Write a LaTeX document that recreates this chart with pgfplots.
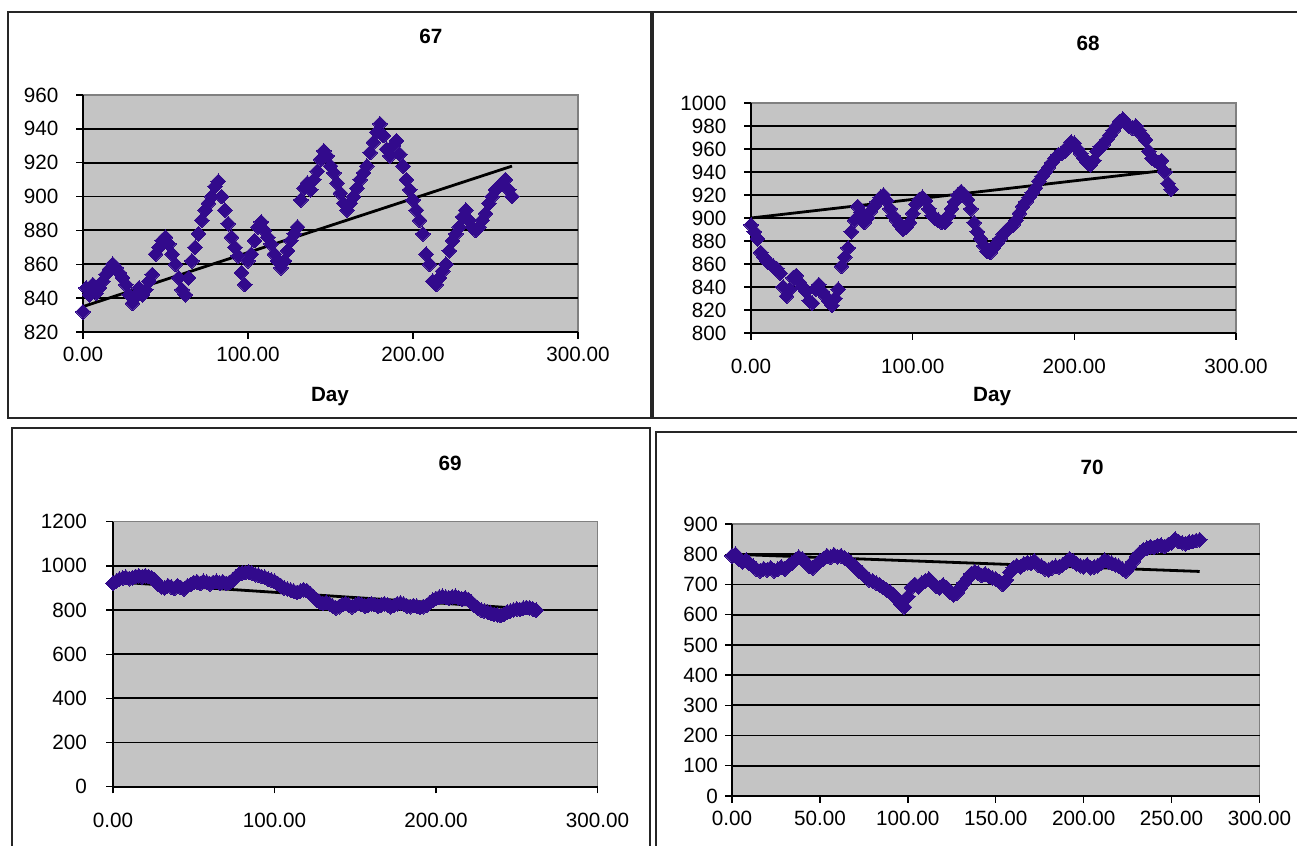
\documentclass[border=0pt]{standalone}
\usepackage{pgfplots}
\pgfplotsset{compat=1.18}
\usepackage{pgfplotstable}
\usepackage{fontspec}
\setmainfont{Liberation Sans}
\definecolor{plotgray}{RGB}{196,196,196}
\definecolor{bordergray}{RGB}{128,128,128}
\definecolor{mk}{RGB}{50,10,140}

\pgfplotstableread{
d v
0 832
2 846
4 842
6 848
8 843
10 846
12 850
14 854
16 857
18 860
20 858
22 855
24 852
26 848
28 842
30 837
32 841
34 846
36 842
38 845
40 850
42 854
44 866
46 870
48 874
50 876
52 872
54 866
56 860
58 852
60 845
62 842
64 852
66 862
68 870
70 878
72 886
74 892
76 896
78 900
80 906
82 909
84 900
86 892
88 884
90 876
92 870
94 865
96 855
98 848
100 862
102 866
104 874
106 882
108 885
110 880
112 876
114 872
116 866
118 862
120 858
122 862
124 868
126 874
128 878
130 882
132 898
134 905
136 908
138 904
140 910
142 915
144 922
146 927
148 924
150 918
152 914
154 908
156 902
158 896
160 892
162 896
164 900
166 905
168 910
170 914
172 918
174 926
176 932
178 938
180 943
182 936
184 928
186 924
188 930
190 933
192 925
194 918
196 910
198 904
200 898
202 892
204 886
206 878
208 866
210 860
212 850
214 848
216 852
218 856
220 860
222 868
224 874
226 878
228 882
230 888
232 892
234 886
236 882
238 880
240 882
242 886
244 890
246 896
248 900
250 904
252 906
254 908
256 910
258 904
260 900
}\dataA

\pgfplotstableread{
d v
0 894
2 888
4 882
6 870
8 866
10 862
12 860
14 858
16 856
18 852
20 840
22 832
24 838
26 848
28 850
30 844
32 840
34 836
36 828
38 826
40 838
42 842
44 836
46 832
48 828
50 824
52 830
54 838
56 858
58 866
60 874
62 888
64 898
66 910
68 905
70 896
72 900
74 906
76 910
78 914
80 918
82 920
84 915
86 908
88 902
90 898
92 894
94 890
96 892
98 896
100 904
102 912
104 916
106 918
108 915
110 908
112 902
114 900
116 898
118 896
120 896
122 902
124 908
126 914
128 920
130 923
132 920
134 916
136 908
138 896
140 888
142 882
144 876
146 871
148 870
150 874
152 878
154 882
156 886
158 889
160 892
162 894
164 898
166 904
168 910
170 914
172 918
174 922
176 926
178 932
180 936
182 940
184 944
186 948
188 952
190 955
192 956
194 958
196 962
198 966
200 965
202 960
204 956
206 952
208 948
210 946
212 950
214 958
216 962
218 964
220 968
222 972
224 976
226 980
228 984
230 986
232 982
234 980
236 978
238 980
240 976
242 972
244 968
246 958
248 952
250 950
252 948
254 950
256 940
258 930
260 925
}\dataB

\pgfplotstableread{
d v
0 921
2 930
4 940
6 945
8 948
10 942
12 946
14 952
16 955
18 950
20 955
22 952
24 945
26 935
28 915
30 905
32 900
34 910
36 905
38 898
40 910
42 902
44 895
46 908
48 915
50 925
52 928
54 920
56 930
58 926
60 918
62 925
64 930
66 922
68 928
70 920
72 925
74 935
76 950
78 962
80 968
82 970
84 972
86 968
88 960
90 958
92 952
94 948
96 940
98 936
100 930
102 920
104 910
106 900
108 895
110 890
112 885
114 880
116 885
118 892
120 888
122 875
124 860
126 845
128 835
130 830
132 835
134 828
136 818
138 810
140 815
142 825
144 830
146 822
148 815
150 822
152 830
154 825
156 818
158 822
160 828
162 825
164 818
166 822
168 828
170 824
172 815
174 820
176 828
178 832
180 826
182 818
184 815
186 820
188 818
190 812
192 815
194 820
196 832
198 845
200 852
202 858
204 862
206 858
208 855
210 860
212 862
214 855
216 850
218 855
220 848
222 835
224 820
226 808
228 800
230 795
232 790
234 785
236 780
238 778
240 775
242 780
244 790
246 795
248 800
250 805
252 802
254 808
256 812
258 810
260 805
262 800
}\dataC

\pgfplotstableread{
d v
0 795
2 800
4 785
6 775
8 780
10 770
12 760
14 750
16 745
18 752
20 748
22 755
24 745
26 750
28 758
30 750
32 762
34 770
36 780
38 790
40 785
42 772
44 760
46 755
48 765
50 778
52 785
54 795
56 790
58 798
60 792
62 795
64 788
66 780
68 770
70 760
72 745
74 738
76 725
78 715
80 712
82 705
84 698
86 690
88 682
90 675
92 665
94 650
96 635
98 625
100 660
102 690
104 700
106 692
108 705
110 712
112 718
114 705
116 695
118 688
120 698
122 690
124 675
126 665
128 672
130 690
132 705
134 720
136 735
138 742
140 738
142 730
144 735
146 728
148 722
150 718
152 710
154 700
156 715
158 740
160 755
162 762
164 758
166 768
168 772
170 770
172 778
174 765
176 760
178 752
180 748
182 755
184 760
186 758
188 765
190 775
192 785
194 778
196 768
198 762
200 758
202 765
204 755
206 758
208 762
210 770
212 780
214 775
216 770
218 765
220 760
222 752
224 745
226 758
228 775
230 792
232 805
234 815
236 820
238 825
240 822
242 828
244 830
246 826
248 832
250 838
252 850
254 842
256 838
258 835
260 840
262 842
264 845
266 848
}\dataD

\pgfplotsset{
  excel/.style={
    scale only axis, anchor=south west, clip=false,
    axis background/.style={fill=plotgray, draw=bordergray, line width=0.8pt},
    axis x line*=bottom, axis y line*=left,
    axis line style={-, black, line width=1.1pt},
    tick align=outside, major tick length=5pt,
    tick style={black, line width=1pt},
    minor tick num=0,
    ymajorgrids, grid style={black, line width=1.4pt},
    extra y tick style={grid=none},
    xmin=0, xmax=300,
    xticklabel={\pgfmathprintnumber[fixed,fixed zerofill,precision=2,assume math mode=true]{\tick}},
    yticklabel={\pgfmathprintnumber[fixed,1000 sep={},assume math mode=true]{\tick}},
    tick label style={font=\fontsize{15.5}{18}\selectfont, text=black},
    xticklabel style={yshift=-3pt},
    yticklabel style={xshift=-2pt},
    title style={font=\fontsize{15.5}{18}\selectfont\bfseries, anchor=center},
    xlabel style={font=\fontsize{15.5}{18}\selectfont\bfseries, anchor=center},
  },
  pts/.style={only marks, mark=square*, mark size=3.9pt,
    mark options={rotate=45, fill=mk, draw=mk, line width=0pt}},
  trend/.style={black, line width=2.1pt, no marks},
}

\begin{document}
\begin{tikzpicture}
\useasboundingbox (0,0) rectangle (972.75pt,634.5pt);
\fill[white] (0,0) rectangle (972.75pt,634.5pt);
\begin{scope}
\clip (0,0) rectangle (972.75pt,634.5pt);
\draw[black!85, line width=1.6pt] (6pt,321pt) rectangle (488.25pt,625.5pt);
\draw[black!85, line width=1.6pt] (489.75pt,321pt) rectangle (980pt,625.5pt);
\draw[black!85, line width=1.6pt] (9pt,-5pt) rectangle (487.5pt,313.5pt);
\draw[black!85, line width=1.6pt] (492pt,-5pt) rectangle (980pt,310.5pt);
\end{scope}

% Panel 67
\begin{axis}[excel, at={(62.25pt,385.5pt)}, width=371.25pt, height=177.75pt,
  ymin=820, ymax=960, ytick={820,840,...,940}, extra y ticks={960},
  yticklabel style={xshift=-8pt},
  xtick={0,100,200,300},
  title={67}, title style={at={(axis description cs:0.703,1.215)}},
  xlabel={Day}, xlabel style={at={(axis description cs:0.499,-0.274)}}]
\addplot[pts] table[x=d,y=v] {\dataA};
\addplot[trend] coordinates {(0,835) (260,918)};
\end{axis}

% Panel 68
\begin{axis}[excel, at={(563.25pt,384.75pt)}, width=363.75pt, height=172.5pt,
  ymin=800, ymax=1000, ytick={800,820,...,980}, extra y ticks={1000},
  yticklabel style={xshift=-8pt}, xticklabel style={yshift=-8pt},
  xtick={0,100,200,300},
  title={68}, title style={at={(axis description cs:0.695,1.226)}},
  xlabel={Day}, xlabel style={at={(axis description cs:0.497,-0.278)}}]
\addplot[pts] table[x=d,y=v] {\dataB};
\addplot[trend] coordinates {(0,900) (260,942)};
\end{axis}

% Panel 69
\begin{axis}[excel, at={(84.75pt,44.475pt)}, width=363.375pt, height=198.75pt,
  ymin=0, ymax=1200, ytick={0,200,...,1000}, extra y ticks={1200},
  yticklabel style={xshift=-9pt}, xticklabel style={yshift=-8pt},
  xtick={0,100,200,300},
  title={69}, title style={at={(axis description cs:0.6956,1.19)}}]
\addplot[pts] table[x=d,y=v] {\dataC};
\addplot[trend] coordinates {(0,928) (262,803)};
\end{axis}

% Panel 70
\begin{axis}[excel, at={(549pt,37.5pt)}, width=395.625pt, height=204pt,
  ymin=0, ymax=900, ytick={0,100,...,800}, extra y ticks={900},
  xtick={0,50,...,300},
  title={70}, title style={at={(axis description cs:0.6825,1.18)}}]
\addplot[pts] table[x=d,y=v] {\dataD};
\addplot[trend] coordinates {(0,800) (266,743)};
\end{axis}
\end{tikzpicture}
\end{document}
